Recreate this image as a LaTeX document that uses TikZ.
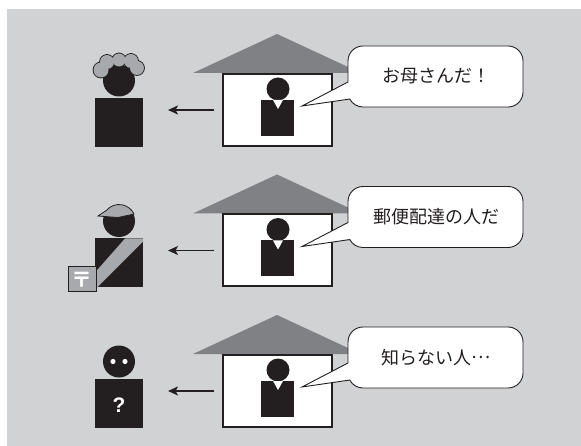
\documentclass[tikz,border=0pt]{standalone}
\usepackage{fontspec}
\newfontfamily\jpfont{Noto Sans CJK JP}
\newfontfamily\latinfont{Liberation Sans}
\usetikzlibrary{arrows.meta, positioning, calc}
\definecolor{bggray}{RGB}{209,210,212}
\definecolor{roofgray}{RGB}{128,129,132}
\definecolor{capgray}{RGB}{167,169,172}
\definecolor{ink}{RGB}{35,31,32}

\begin{document}
\begin{tikzpicture}[x=1pt, y=-1pt,
    wall/.style={draw=ink, line width=2pt, fill=white, minimum width=109pt, minimum height=72pt, inner sep=0pt},
    torso/.style={fill=ink, inner sep=0pt, minimum width=48pt, minimum height=49pt},
    inmate/.style={fill=ink, inner sep=0pt, minimum width=33pt, minimum height=36pt},
    headball/.style={circle, fill=ink, inner sep=0pt, minimum size=#1},
    speech/.style={draw=ink, line width=0.9pt, fill=white},
    saying/.style={font=\jpfont\fontsize{18}{20}\selectfont, text=ink},
    towards/.style={-{Stealth[length=10pt, width=9pt, inset=2.5pt]}, line width=1.5pt, draw=ink},
  ]
  \useasboundingbox (0,0) rectangle (581,446);
  \fill[bggray] (7,9) rectangle (581,446);

  % three houses, each with someone inside talking
  \foreach \r/\says in {0/{お母さんだ！}, 1/{郵便配達の人だ}, 2/{知らない人\raisebox{0.32em}{…}}} {
    \begin{scope}[shift={(0,\r*140.5)}]
      % roof and wall
      \fill[roofgray] (193,73) -- (277,34) -- (361,73) -- cycle;
      \node[wall] (wall\r) at (277.5,110) {};
      % person at home
      \node[inmate] (inmate\r) at (277.5,118) {};
      \node[headball=23pt] (inhead\r) at (278,89) {};
      \fill[white] (273,100) -- (283,100) -- (278,109) -- cycle;
      % speech bubble with its tail
      \draw[speech] (302,106) -- (348,82) -- (348,61)
        arc[start angle=180, end angle=270, radius=15] -- (508,46)
        arc[start angle=270, end angle=360, radius=15] -- (523,92)
        arc[start angle=0, end angle=90, radius=15] -- (363,107)
        arc[start angle=90, end angle=152, radius=15] -- cycle;
      \node[saying] (say\r) at (436,76.5) {\says};
      % looking out at the visitor
      \draw[towards] ([xshift=-8pt]wall\r.west) -- ([xshift=-54pt]wall\r.west);
    \end{scope}
  }

  % mother with curly hair
  \node[torso] (mumbody) at (119,122.5) {};
  \node[headball=32pt] (mumhead) at (119,80.5) {};
  \foreach \hx/\hy/\hr in {101/70/7.5, 107/62/7, 119/60/6.5, 131/61/7, 137/68/7}
    \fill[ink] (\hx,\hy) circle[radius=\hr+0.9];
  \foreach \hx/\hy/\hr in {101/70/7.5, 107/62/7, 119/60/6.5, 131/61/7, 137/68/7}
    \fill[capgray] (\hx,\hy) circle[radius=\hr];

  % postman with cap, sash and mail box
  \begin{scope}[shift={(0,140.5)}]
    \node[torso] (postbody) at (119,122.5) {};
    \fill[capgray] (125,98) -- (143,98) -- (143,101) -- (97,147) -- (95,147) -- (95,132) -- cycle;
    \node[headball=32pt] (posthead) at (119,80.5) {};
    \filldraw[fill=capgray, draw=ink, line width=0.8pt] (98,75.5) -- (106.4,69.9)
      arc[start angle=220, end angle=335, radius=16.5] -- (118,77) -- cycle;
    \node[draw=ink, fill=capgray, line width=1pt, minimum width=28pt, minimum height=25pt, inner sep=0pt] (mailbox) at (82,139) {};
    \node[text=white, font=\jpfont\bfseries\fontsize{21}{21}\selectfont, inner sep=0pt] (postmark) at (mailbox) {〒};
  \end{scope}

  % stranger
  \begin{scope}[shift={(0,281)}]
    \node[torso] (strangerbody) at (119,122.5) {};
    \node[headball=32pt] (strangerhead) at (119,80.5) {};
    \fill[white] (113,80.5) circle[radius=2.6];
    \fill[white] (125,80.5) circle[radius=2.6];
    \node[text=white, font=\latinfont\bfseries\fontsize{21}{21}\selectfont, inner sep=0pt] (query) at ([yshift=-2pt]strangerbody.center) {?};
  \end{scope}
\end{tikzpicture}
\end{document}
